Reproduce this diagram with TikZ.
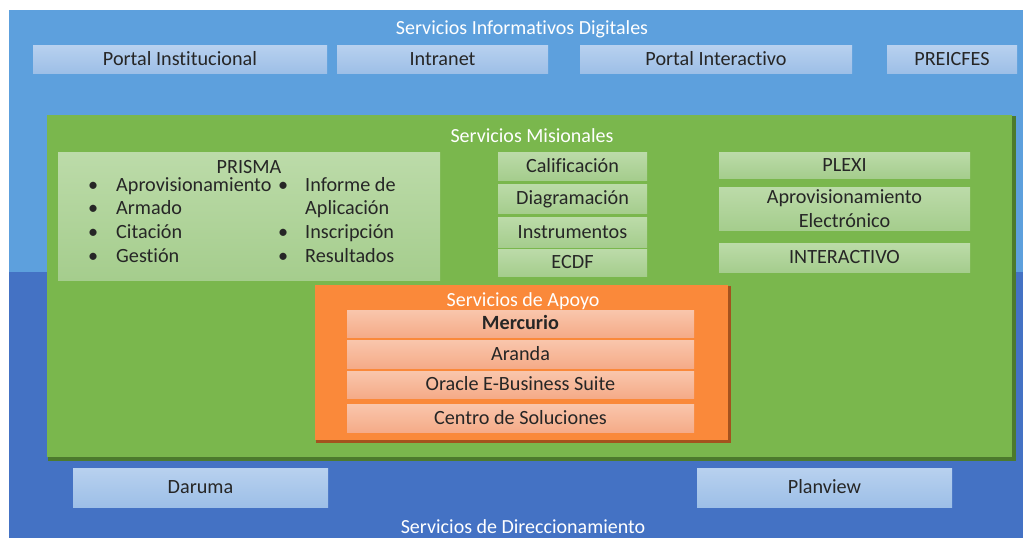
\documentclass[tikz,border=0pt]{standalone}
\usepackage{fontspec}
\setmainfont{Carlito}[Ligatures=NoCommon]

\definecolor{infoblue}{HTML}{5DA0DD}
\definecolor{dirblue}{HTML}{4472C4}
\definecolor{tileblueA}{HTML}{B8D1EF}
\definecolor{tileblueB}{HTML}{9DBFE7}
\definecolor{misgreen}{HTML}{7AB74D}
\definecolor{misgreendark}{HTML}{4C7A2D}
\definecolor{tilegreenA}{HTML}{BCDBA9}
\definecolor{tilegreenB}{HTML}{A5CD8D}
\definecolor{apoyo}{HTML}{FA893A}
\definecolor{apoyodark}{HTML}{A4521E}
\definecolor{tileorangeA}{HTML}{F9C6AC}
\definecolor{tileorangeB}{HTML}{F5AB88}
\definecolor{ink}{HTML}{262626}

\tikzset{
  wh/.style 2 args={minimum width=#1pt,minimum height=#2pt},
  tile/.style={inner sep=0pt,text=ink,align=center,
    font=\fontsize{20.2}{23.5}\selectfont,text height=1.2em,text depth=0em},
  infotile/.style={tile,top color=tileblueA,bottom color=tileblueB},
  mistile/.style={tile,top color=tilegreenA,bottom color=tilegreenB},
  apotile/.style={tile,top color=tileorangeA,bottom color=tileorangeB},
  item/.style={inner sep=0pt,text=ink,anchor=west,
    font=\fontsize{20.2}{23.5}\selectfont,text height=1.2em,text depth=0em},
  title/.style={inner sep=0pt,text=white,
    font=\fontsize{20}{24}\selectfont,text height=1.25em,text depth=0em}
}

\begin{document}
\begin{tikzpicture}[x=1pt,y=-1pt]
  \useasboundingbox (0,0) rectangle (1023,538);

  % background bands
  \fill[infoblue] (9,10) rectangle (1023,272);
  \fill[dirblue] (9,272) rectangle (1023,538);

  % servicios informativos digitales
  \node[title] (infotitle) at (522,28) {Servicios Informativos Digitales};
  \node[infotile,wh={294}{28}] (portal) at (180,59) {Portal Institucional};
  \node[infotile,wh={211}{28}] (intranet) at (442.5,59) {Intranet};
  \node[infotile,wh={272}{28}] (portalint) at (716,59) {Portal Interactivo};
  \node[infotile,wh={130}{28}] (preicfes) at (952,59) {PREICFES};

  % servicios misionales
  \fill[misgreendark] (48,116) rectangle (1016,461);
  \fill[misgreen] (47,115) rectangle (1012,457);
  \node[title] (mistitle) at (532,136) {Servicios Misionales};

  \node[mistile,wh={382}{128}] (prisma) at (249,216) {};
  \node[tile] (prismatitle) at (249,167) {PRISMA};
  \foreach [count=\n] \t in {Aprovisionamiento,Armado,Citación,Gestión} {
    \node[item] (lb\n) at (88,161.3+23.7*\n) {•};
    \node[item] (li\n) at (116,161.3+23.7*\n) {\t};
  };
  \foreach [count=\n] \t in {Informe de,Aplicación,Inscripción,Resultados} {
    \node[item] (ri\n) at (305,161.3+23.7*\n) {\t};
  };
  \foreach \n in {1,3,4} {
    \node[item] (rb\n) at (278,161.3+23.7*\n) {•};
  };

  \node[mistile,wh={149}{28}] (calif) at (572.5,166) {Calificación};
  \node[mistile,wh={149}{29}] (diag) at (572.5,198.5) {Diagramación};
  \node[mistile,wh={149}{30}] (instr) at (572.5,232) {Instrumentos};
  \node[mistile,wh={149}{27}] (ecdf) at (572.5,262.5) {ECDF};

  \node[mistile,wh={251}{26}] (plexi) at (844.5,165) {PLEXI};
  \node[mistile,wh={251}{43},text height={},text depth={}] (aprov) at (844.5,208.5)
    {Aprovisionamiento\\Electrónico};
  \node[mistile,wh={251}{29}] (interact) at (844.5,257.5) {INTERACTIVO};

  % servicios de apoyo
  \fill[apoyodark] (316,286) rectangle (731,443);
  \fill[apoyo] (315,285) rectangle (728,440);
  \node[title] (apotitle) at (523,300) {Servicios de Apoyo};
  \node[apotile,wh={347}{27},font=\fontsize{20.2}{23.5}\selectfont\bfseries] (mercurio) at (520.5,323.5) {Mercurio};
  \node[apotile,wh={347}{28}] (aranda) at (520.5,354) {Aranda};
  \node[apotile,wh={347}{27}] (oracle) at (520.5,384.5) {Oracle E-Business Suite};
  \node[apotile,wh={347}{28}] (centro) at (520.5,418) {Centro de Soluciones};

  % servicios de direccionamiento
  \node[infotile,wh={255}{39}] (daruma) at (200.5,487.5) {Daruma};
  \node[infotile,wh={255}{39}] (planview) at (824.5,487.5) {Planview};
  \node[title] (dirtitle) at (523,527) {Servicios de Direccionamiento};

\end{tikzpicture}
\end{document}
